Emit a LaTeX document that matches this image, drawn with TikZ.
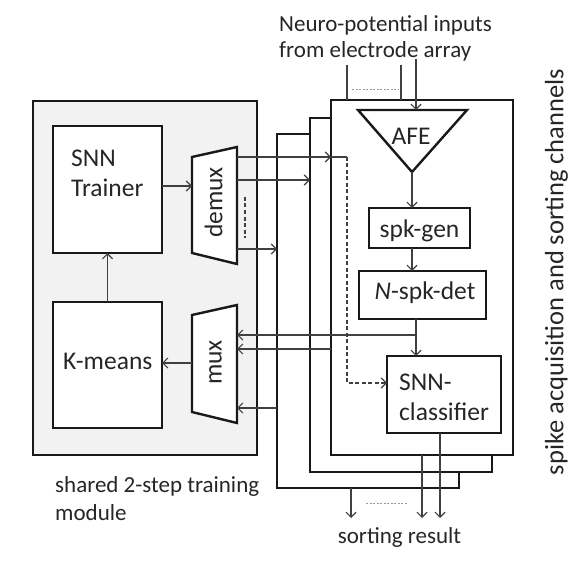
\documentclass[tikz,border=0pt]{standalone}
\usepackage{fontspec}
\setmainfont{Carlito}
\usetikzlibrary{arrows.meta}
\definecolor{linegray}{HTML}{404040}
\definecolor{txtgray}{HTML}{262626}
\definecolor{modfill}{HTML}{F2F2F2}
\begin{document}
\begin{tikzpicture}[x=1bp,y=-1bp,
  box/.style={draw=black!90, line width=2.4bp, fill=white, inner sep=0pt, outer sep=0pt, anchor=north west},
  shapeline/.style={draw=black!90, line width=2.4bp, fill=white, line join=miter},
  thinline/.style={draw=linegray, line width=1.2bp},
  arr/.style={thinline, -{Straight Barb[length=5bp,width=10bp]}},
  dashline/.style={thinline, dash pattern=on 4bp off 2.5bp},
  dotline/.style={draw=black!40, line width=1bp, dash pattern=on 2bp off 1.5bp},
  txt/.style={inner sep=0pt, text=txtgray, font=\fontsize{23bp}{27bp}\selectfont},
  boxtxt/.style={inner sep=0pt, text=txtgray, font=\fontsize{25.5bp}{30bp}\selectfont},
  sidetxt/.style={inner sep=0pt, text=txtgray, font=\fontsize{26.5bp}{30bp}\selectfont}
]
\useasboundingbox (0,0) rectangle (580,561);

% shared training module
\node[box, fill=modfill, minimum width=224bp, minimum height=354bp] (module) at (33,101) {};
\node[box, minimum width=109bp, minimum height=127bp] (trainer) at (53,126) {};
\node[box, minimum width=109bp, minimum height=126bp] (kmeans) at (53,302) {};

% demux / mux trapezoids
\coordinate (dtl) at (192,157); \coordinate (dbl) at (192,253);
\coordinate (dtr) at (237,147); \coordinate (dbr) at (237,264);
\path[shapeline] (dtl) -- (dtr) -- (dbr) -- (dbl) -- cycle;
\coordinate (mtl) at (192,315); \coordinate (mbl) at (192,412);
\coordinate (mtr) at (237,305); \coordinate (mbr) at (237,423);
\path[shapeline] (mtl) -- (mtr) -- (mbr) -- (mbl) -- cycle;

% channels
\node[box, minimum width=182bp, minimum height=354bp] (ch3) at (277,134) {};
\node[box, minimum width=182bp, minimum height=354bp] (ch2) at (310,118) {};
\node[box, minimum width=182bp, minimum height=355bp] (ch1) at (331,100) {};

% AFE triangle
\coordinate (atl) at (358,110); \coordinate (atr) at (467,110); \coordinate (aap) at (412,172);
\path[shapeline] (atl) -- (atr) -- (aap) -- cycle;
\node[box, minimum width=101bp, minimum height=40bp] (spkgen) at (369,208) {};
\node[box, minimum width=127bp, minimum height=48bp] (nspk) at (359,271) {};
\node[box, minimum width=114bp, minimum height=77bp] (clf) at (387,356) {};

% connection points
\coordinate (dmxin) at (192,186);
\coordinate (mxout) at (192,363);
\coordinate (d1) at (237,157); \coordinate (d2) at (237,180); \coordinate (d3) at (237,249);
\coordinate (m1) at (237,335); \coordinate (m2) at (237,349); \coordinate (m3) at (237,408);
\coordinate (dsh) at (347,157);
\coordinate (clfin) at (387,383);
\coordinate (nb) at (416,335);
\coordinate (in1) at (416,59); \coordinate (in2) at (401,65); \coordinate (in3) at (347,65);
\coordinate (o1) at (440,518); \coordinate (o2) at (422,518); \coordinate (o3) at (351,518);

% module internal connectors
\draw[arr] (trainer.east |- dmxin) -- (dmxin);
\draw[arr] (mxout) -- (kmeans.east |- mxout);
\draw[arr] (kmeans.north) -- (trainer.south);

% demux outputs
\draw[arr] (d1) -- (ch1.west |- d1);
\draw[thinline] (ch1.west |- d1) -- (dsh);
\draw[dashline, -{Straight Barb[length=5bp,width=10bp]}] (dsh) -- (dsh |- clfin) -- (clfin);
\draw[arr] (d2) -- (ch2.west |- d2);
\draw[arr] (d3) -- (ch3.west |- d3);
\draw[dashline] (245,197) -- (245,238);

% mux inputs
\draw[arr] (nb) -- (m1);
\draw[arr] (ch1.west |- m2) -- (m2);
\draw[arr] (ch3.west |- m3) -- (m3);

% channel internal connectors
\draw[arr] (in1) -- (in1 |- atl);
\draw[thinline] (in2) -- (in2 |- ch1.north);
\draw[thinline] (in3) -- (in3 |- ch1.north);
\draw[dotline] (352,90) -- (398,90);
\draw[arr] (aap) -- (spkgen.north -| aap);
\draw[arr] (spkgen.south -| aap) -- (nspk.north -| aap);
\draw[arr] (nspk.south -| nb) -- (clf.north -| nb);

% outputs
\draw[arr] (clf.south -| o1) -- (o1);
\draw[arr] (ch1.south -| o2) -- (o2);
\draw[arr] (ch3.south -| o3) -- (o3);
\draw[dotline] (366,503) -- (407,503);

% texts
\node[txt, anchor=base west] (t1) at (279,31.5) {Neuro-potential inputs};
\node[txt, anchor=base west] (t2) at (279,58) {from electrode array};
\node[boxtxt, anchor=base west] (tr1) at (71,166.7) {SNN};
\node[boxtxt, anchor=base west] (tr2) at (71,196.7) {Trainer};
\node[boxtxt, anchor=base] (km) at (107.7,369.3) {K-means};
\node[boxtxt, rotate=90] (dmxt) at (213.5,202.5) {demux};
\node[boxtxt, rotate=90] (mxt) at (215.5,362.5) {mux};
\node[boxtxt, anchor=base] (afet) at (411,145) {AFE};
\node[boxtxt, anchor=base] (sgt) at (419.5,237.5) {spk-gen};
\node[boxtxt, anchor=base] (nst) at (425,299.3) {\textit{N}-spk-det};
\node[boxtxt, anchor=base west] (c1) at (399,390) {SNN-};
\node[boxtxt, anchor=base west] (c2) at (399,420) {classifier};
\node[txt, anchor=base west] (s1) at (55,492.7) {shared 2-step training};
\node[txt, anchor=base west] (s2) at (55,520) {module};
\node[txt, anchor=base] (sr) at (399.5,543) {sorting result};
\node[sidetxt, rotate=90] (side) at (556.5,272) {spike acquisition and sorting channels};
\end{tikzpicture}
\end{document}
